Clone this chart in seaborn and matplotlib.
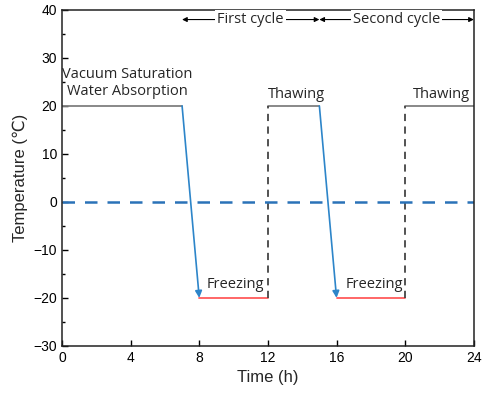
import matplotlib
matplotlib.use("Agg")
import matplotlib.pyplot as plt
import seaborn as sns
import pandas as pd
from matplotlib.ticker import MultipleLocator

sns.set_theme(style="ticks")
plt.rcParams['font.family'] = ['Liberation Sans', 'DejaVu Sans']

# Data
hold_start = [0, 12, 20]
hold_end = [7, 15, 24]
hold_temp = [20, 20, 20]
cool_start = [7, 15]
cool_end = [8, 16]
freeze_start = [8, 16]
freeze_end = [12, 20]
freeze_temp = [-20, -20]
thaw_x = [12, 20]
high_temp = 20
low_temp = -20
zero_line = 0
x_ticks = [0, 4, 8, 12, 16, 20, 24]
y_ticks = [-30, -20, -10, 0, 10, 20, 30, 40]
cycle_labels = ["First cycle", "Second cycle"]
cycle_start = [7, 15]
cycle_end = [15, 24]

fig, ax = plt.subplots(figsize=(4.84, 3.98), dpi=100)
fig.subplots_adjust(left=0.128, right=0.979, top=0.975, bottom=0.131)

gray = "#7f7f7f"
red = "#ff5a5a"
blue = "#2d85c9"

for s, e, t in zip(hold_start, hold_end, hold_temp):
    df = pd.DataFrame({"x": [s, e], "y": [t, t]})
    sns.lineplot(data=df, x="x", y="y", ax=ax, color=gray, lw=1.3)
for s, e, t in zip(freeze_start, freeze_end, freeze_temp):
    df = pd.DataFrame({"x": [s, e], "y": [t, t]})
    sns.lineplot(data=df, x="x", y="y", ax=ax, color=red, lw=1.3)
for x in thaw_x:
    df = pd.DataFrame({"x": [x, x], "y": [low_temp, high_temp]})
    sns.lineplot(data=df, x="x", y="y", ax=ax, color="#444444", lw=1.3,
                 linestyle=(0, (4, 3)), orient="y")
for s, e in zip(cool_start, cool_end):
    ax.annotate("", xy=(e, low_temp), xytext=(s, high_temp),
                arrowprops=dict(arrowstyle="-|>", color=blue, lw=1.2,
                                mutation_scale=10, shrinkA=0, shrinkB=0))

ax.axhline(zero_line, color="#2a72b8", lw=1.8, linestyle=(0, (5, 4)))

txt_font = ['Open Sans', 'DejaVu Sans']
ax.text(3.8, 24.8, "Vacuum Saturation\nWater Absorption", ha="center", va="center",
        fontsize=10.5, family=txt_font, linespacing=1.25)
for x in [13.65, 22.1]:
    ax.text(x, 22.3, "Thawing", ha="center", va="center", fontsize=10.5, family=txt_font)
for x in [10.1, 18.2]:
    ax.text(x, -17.3, "Freezing", ha="center", va="center", fontsize=10.5, family=txt_font)

for lab, s, e in zip(cycle_labels, cycle_start, cycle_end):
    ax.annotate("", xy=(s, 38), xytext=(e, 38),
                arrowprops=dict(arrowstyle="<|-|>", color="black", lw=0.8,
                                mutation_scale=7, shrinkA=0, shrinkB=0))
    t = ax.text((s + e) / 2, 38, lab, ha="center", va="center", fontsize=10.5,
                family=txt_font, bbox=dict(facecolor="white", edgecolor="none", pad=1.5))

ax.set_xlim(0, 24)
ax.set_ylim(-30, 40)
ax.set_xticks(x_ticks)
ax.set_yticks(y_ticks)
ax.yaxis.set_minor_locator(MultipleLocator(5))
ax.tick_params(axis="both", which="both", direction="in", labelsize=10, colors="black",
               top=False, right=False)
ax.tick_params(which="major", length=4, width=1)
ax.tick_params(which="minor", length=2.5, width=1)
for sp in ax.spines.values():
    sp.set_visible(True)
    sp.set_color("#222222")
    sp.set_linewidth(1.1)
ax.set_xlabel("Time (h)", fontsize=12, labelpad=4)
ax.set_ylabel("Temperature (℃)", fontsize=12, labelpad=4)

fig.savefig("out.png", dpi=100)
